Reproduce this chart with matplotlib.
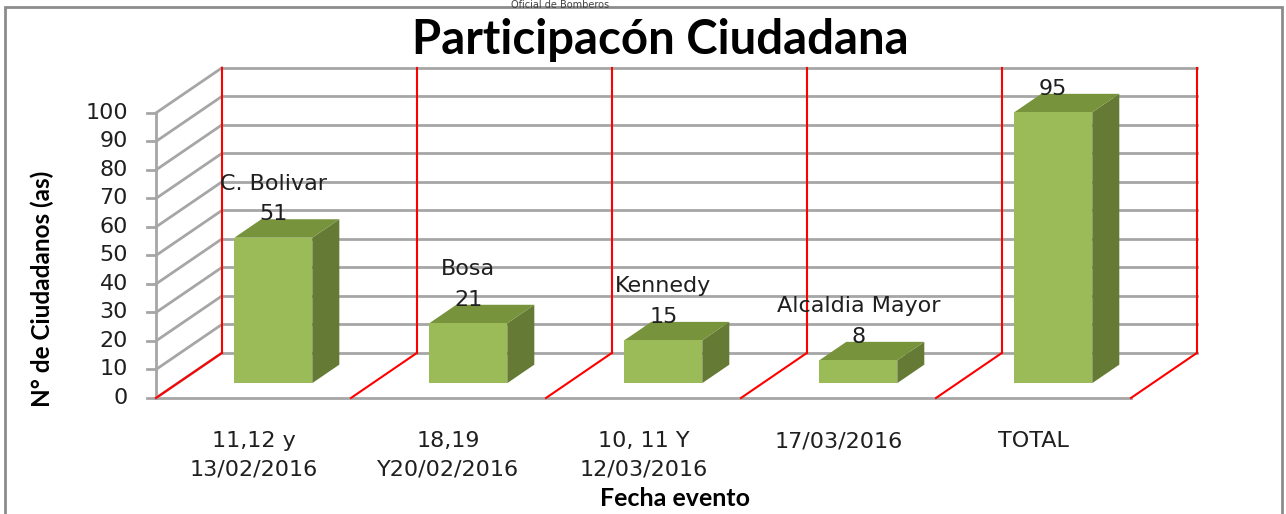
import matplotlib
matplotlib.use("Agg")
import matplotlib.pyplot as plt
from matplotlib.patches import Polygon, Rectangle

# Data
categories = ["11,12 y\n13/02/2016", "18,19\nY20/02/2016", "10, 11 Y\n12/03/2016", "17/03/2016", "TOTAL"]
values = [51, 21, 15, 8, 95]
bar_names = ["C. Bolivar", "Bosa", "Kennedy", "Alcaldia Mayor", ""]
y_ticks = list(range(0, 101, 10))

# Fake 3D geometry (category units / value units)
DX, DY = 0.338, 15.8          # shift of the back wall
BZ0, BZ1 = 0.33, 0.74         # depth of the bars
BX0, BX1 = 0.29, 0.69         # bar position inside a category

FRONT = "#9BBB59"
TOP = "#77933C"
SIDE = "#647A35"
GRID = "#A6A6A6"
RED = "#FF0000"
TXT = "#1f1f1f"


def proj(x, v, z):
    return (x + z * DX, v + z * DY)


fig = plt.figure(figsize=(12.86, 5.14), dpi=100)
ax = fig.add_axes([0, 0, 1, 1])
ax.set_xlim(-0.8, 5.795)
ax.set_ylim(-40.7, 139.6)
ax.axis("off")

n = len(categories)
vmax = y_ticks[-1]

# back wall gridlines, side wall diagonals, tick marks and labels
for t in y_ticks:
    ax.plot(*zip(proj(0, t, 1), proj(n, t, 1)), color=GRID, lw=2, zorder=1)
    ax.plot(*zip(proj(0, t, 0), proj(0, t, 1)), color=GRID, lw=2, zorder=1)
    ax.plot([-0.046, 0], [t, t], color=GRID, lw=2, zorder=1)
    ax.text(-0.144, t, str(t), ha="right", va="center", fontsize=16,
            family="DejaVu Sans", color=TXT)

# front axis and front floor edge
ax.plot([0, 0], [0, vmax], color=GRID, lw=2, zorder=1)
ax.plot([0, n], [0, 0], color=GRID, lw=2, zorder=1)

# red category separators on back wall and floor
for i in range(n + 1):
    ax.plot(*zip(proj(i, 0, 1), proj(i, vmax, 1)), color=RED, lw=1.5, zorder=2)
    ax.plot(*zip(proj(i, 0, 0), proj(i, 0, 1)), color=RED, lw=1.5, zorder=2)

# bars
for i, (v, name) in enumerate(zip(values, bar_names)):
    x0, x1 = i + BX0, i + BX1
    front = [proj(x0, 0, BZ0), proj(x1, 0, BZ0), proj(x1, v, BZ0), proj(x0, v, BZ0)]
    top = [proj(x0, v, BZ0), proj(x1, v, BZ0), proj(x1, v, BZ1), proj(x0, v, BZ1)]
    side = [proj(x1, 0, BZ0), proj(x1, 0, BZ1), proj(x1, v, BZ1), proj(x1, v, BZ0)]
    ax.add_patch(Polygon(side, closed=True, facecolor=SIDE, edgecolor="none", zorder=3))
    ax.add_patch(Polygon(top, closed=True, facecolor=TOP, edgecolor="none", zorder=3))
    ax.add_patch(Polygon(front, closed=True, facecolor=FRONT, edgecolor="none", zorder=4))

    cx, cy = proj((x0 + x1) / 2, v, BZ0)
    ax.annotate(str(v), (cx, cy), xytext=(0, 17), textcoords="offset points",
                ha="center", va="center", fontsize=16, color=TXT, zorder=5)
    if name:
        ax.annotate(name, (cx, cy), xytext=(0, 39), textcoords="offset points",
                    ha="center", va="center", fontsize=16, color=TXT, zorder=5)

# category labels
for i, lab in enumerate(categories):
    ax.text(i + 0.5, -11.6, lab, ha="center", va="top", fontsize=16,
            linespacing=1.55, color=TXT)

# titles
fig.text(660 / 1286, 1 - 40 / 514, "Participacón Ciudadana", ha="center", va="center",
         fontsize=34, fontweight="bold", family="Lato")
fig.text(42 / 1286, 1 - 289 / 514, "N° de Ciudadanos (as)", ha="center", va="center",
         rotation=90, fontsize=17.5, fontweight="bold", family="Lato")
fig.text(675 / 1286, 1 - 498 / 514, "Fecha evento", ha="center", va="center",
         fontsize=18, fontweight="bold", family="Lato")
fig.text(560 / 1286, 1 - 5 / 514, "Oficial de Bomberos", ha="center", va="center",
         fontsize=7, color="#444444")

# chart frame
fig.patches.append(Rectangle((5 / 1286, -0.02), 1277 / 1286, 1.02 - 7 / 514,
                             transform=fig.transFigure, fill=False,
                             edgecolor="#8C8C8C", lw=2))

fig.savefig("out.png", dpi=100)
